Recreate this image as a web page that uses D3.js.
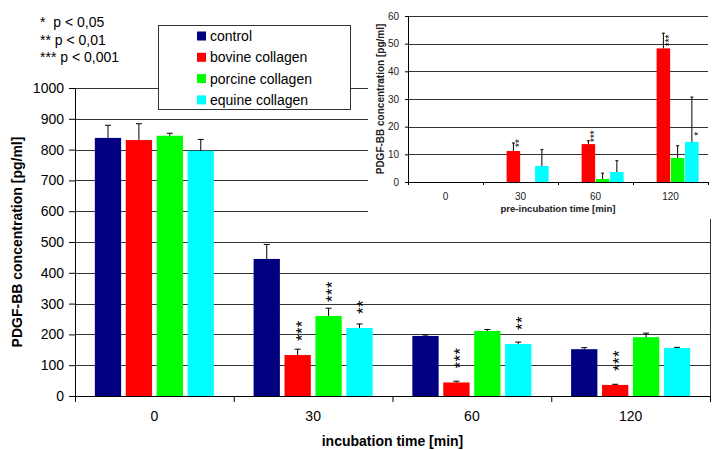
<!DOCTYPE html>
<html>
<head>
<meta charset="utf-8">
<script src="https://cdn.jsdelivr.net/npm/d3@7"></script>
<style>
body { margin: 0; background: #fff; }
text { font-family: Arial, "Liberation Sans", sans-serif; }
.grid line { stroke: #333; shape-rendering: crispEdges; }
.grid path { stroke-width: 0; }
</style>
</head>
<body>
<svg id="chart" width="717" height="450"></svg>
<script>

var times = ["0", "30", "60", "120"];
var series = ["control", "bovine collagen", "porcine collagen", "equine collagen"];
var colors = ["#000080", "#ff0000", "#00ff00", "#00ffff"];

// main chart: mean and upper error per series (rows) and time (cols)
var mainMean = [
  [838, 445, 195, 152],
  [831, 133, 44, 36],
  [845, 260, 211, 191],
  [796, 221, 169, 156]
];
var mainErr = [
  [41, 47, 3, 5],
  [53, 19, 4, 2],
  [8, 25, 5, 13],
  [37, 13, 6, 2]
];
var mainStars = [
  [0, 0, 0, 0],
  [0, 3, 3, 3],
  [0, 3, 0, 0],
  [0, 2, 2, 0]
];

// inset: pre-incubation
var insetMean = [
  [0, 0, 0, 0],
  [0, 11.2, 13.7, 48.3],
  [0, 0, 1.1, 8.7],
  [0, 5.8, 3.6, 14.5]
];
var insetErr = [
  [0, 0, 0, 0],
  [0, 2.9, 1.2, 5.5],
  [0, 0, 2.1, 4.4],
  [0, 5.9, 4.1, 16.2]
];
var insetStars = [
  [0, 0, 0, 0],
  [0, 2, 3, 3],
  [0, 0, 0, 0],
  [0, 0, 0, 1]
];

var mainTicks = d3.range(0, 1001, 100);
var insetTicks = d3.range(0, 61, 10);
var pLabels = ["*  p < 0,05", "** p < 0,01", "*** p < 0,001"];

var svg = d3.select("#chart");

function rows(mean, err, stars) {
  var out = [];
  times.forEach(function(t, ti) {
    series.forEach(function(s, si) {
      out.push({time: t, series: s, color: colors[si], v: mean[si][ti], e: err[si][ti], stars: stars[si][ti]});
    });
  });
  return out;
}

function panel(o) {
  var g = svg.append("g");
  var y = d3.scaleLinear().domain([0, o.ymax]).range([o.bottom, o.top]);
  var x0 = d3.scaleBand().domain(times).range([o.left, o.right])
    .paddingInner(0.25).paddingOuter(0.125);
  var x1 = d3.scaleBand().domain(series).range([0, x0.bandwidth()])
    .paddingInner(o.barPad);
  var xb = d3.scaleLinear().domain([0, times.length]).range([o.left, o.right]);

  // gridlines
  g.append("g").attr("class", "grid")
    .attr("transform", `translate(${o.left},0)`)
    .call(d3.axisLeft(y).tickValues(o.ticks.slice(1)).tickSize(-(o.right - o.left)).tickFormat(""));

  if (o.border) {
    g.append("line").attr("x1", o.right).attr("x2", o.right)
      .attr("y1", o.top).attr("y2", o.bottom)
      .attr("stroke", "#333").attr("shape-rendering", "crispEdges");
  }

  var data = rows(o.mean, o.err, o.stars);
  var bx = function(d) { return x0(d.time) + x1(d.series); };
  var bw = x1.bandwidth();

  g.selectAll(".bar").data(data).enter().append("rect")
    .attr("x", bx)
    .attr("y", d => y(d.v))
    .attr("width", bw)
    .attr("height", d => o.bottom - y(d.v))
    .attr("fill", d => d.color);

  var withErr = data.filter(d => d.e > 0);
  g.selectAll("line.err").data(withErr).enter().append("line")
    .attr("stroke", "#000")
    .attr("x1", d => bx(d) + bw / 2).attr("x2", d => bx(d) + bw / 2)
    .attr("y1", d => y(d.v)).attr("y2", d => y(d.v + d.e));
  g.selectAll("line.cap").data(withErr).enter().append("line")
    .attr("stroke", "#000")
    .attr("x1", d => bx(d) + bw / 2 - o.cap).attr("x2", d => bx(d) + bw / 2 + o.cap)
    .attr("y1", d => y(d.v + d.e)).attr("y2", d => y(d.v + d.e));

  // significance stars: one rotated label per bar, reading upward
  g.selectAll("text.star").data(data.filter(d => d.stars > 0)).enter().append("text")
    .attr("class", "star")
    .attr("transform", function(d) {
      var cx = bx(d) + bw / 2 + o.starDx + o.starFont * 0.58;
      return `translate(${cx},${o.starBase(d, y)}) rotate(-90)`;
    })
    .attr("font-size", o.starFont)
    .attr("letter-spacing", o.starGap)
    .attr("fill", "#000")
    .text(d => "*".repeat(d.stars));

  // y axis
  var ya = g.append("g").attr("transform", `translate(${o.left},0)`)
    .call(d3.axisLeft(y).tickValues(o.ticks).tickFormat(d3.format("d"))
      .tickSize(o.tick).tickPadding(o.tickPad).tickSizeOuter(0));
  ya.selectAll("text").attr("font-size", o.font).attr("fill", o.textColor).attr("font-family", null);
  ya.selectAll("line,path").attr("stroke", "#000");

  // x axis: ticks at category boundaries, labels at centres
  var xa = g.append("g").attr("transform", `translate(0,${o.bottom})`)
    .call(d3.axisBottom(xb).ticks(times.length).tickSize(o.tick).tickFormat("").tickSizeOuter(0));
  xa.selectAll("line,path").attr("stroke", "#000");
  var xl = g.append("g").attr("transform", `translate(0,${o.bottom})`)
    .call(d3.axisBottom(x0).tickSize(0).tickPadding(o.xPad));
  xl.select(".domain").remove();
  xl.selectAll("text").attr("font-size", o.font).attr("fill", o.textColor).attr("font-family", null);

  g.append("text")
    .attr("transform", `translate(${o.yTitleX},${(o.top + o.bottom) / 2}) rotate(-90)`)
    .attr("text-anchor", "middle").attr("dy", "0.35em")
    .attr("font-weight", "bold").attr("font-size", o.yTitleFont).attr("fill", o.textColor)
    .text("PDGF-BB concentration [pg/ml]");
  g.append("text")
    .attr("x", (o.left + o.right) / 2).attr("y", o.xTitleY)
    .attr("text-anchor", "middle")
    .attr("font-weight", "bold").attr("font-size", o.xTitleFont).attr("fill", o.textColor)
    .text(o.xTitle);
}

panel({
  left: 75, right: 710, top: 88, bottom: 396,
  ymax: 1000, ticks: mainTicks,
  mean: mainMean, err: mainErr, stars: mainStars,
  barPad: 0.15, cap: 3, border: true,
  font: 14, tick: 6, tickPad: 5, xPad: 15, textColor: "#000",
  starFont: 17, starGap: 0.3, starDx: 0,
  starBase: function(d, y) { return y(d.v) - 14; },
  yTitleX: 17, yTitleFont: 14,
  xTitle: "incubation time [min]", xTitleY: 446, xTitleFont: 14
});

// inset background hides the main chart behind it
svg.append("rect").attr("x", 368).attr("y", 0).attr("width", 349).attr("height", 219).attr("fill", "#fff");

panel({
  left: 408, right: 708, top: 16, bottom: 182,
  ymax: 60, ticks: insetTicks,
  mean: insetMean, err: insetErr, stars: insetStars,
  barPad: 0.05, cap: 1.5, border: false,
  font: 10, tick: 3, tickPad: 6, xPad: 11, textColor: "#222",
  starFont: 10, starGap: 0, starDx: 4,
  starBase: function(d, y) { return y(d.v) - 8 + d.stars * 1.95; },
  yTitleX: 380, yTitleFont: 10,
  xTitle: "pre-incubation time [min]", xTitleY: 212, xTitleFont: 9.6
});

// legend
var lg = svg.append("g");
lg.append("rect").attr("x", 158).attr("y", 25).attr("width", 192).attr("height", 84)
  .attr("fill", "#fff").attr("stroke", "#333").attr("shape-rendering", "crispEdges");
series.forEach(function(s, i) {
  var cy = 36 + i * 21.3;
  lg.append("rect").attr("x", 197).attr("y", cy - 4.5).attr("width", 9).attr("height", 9).attr("fill", colors[i]);
  lg.append("text").attr("x", 210).attr("y", cy + 5).attr("font-size", 14).text(s);
});

// significance key
pLabels.forEach(function(t, i) {
  svg.append("text").attr("x", 40).attr("y", 27 + i * 17.5).attr("font-size", 14)
    .attr("xml:space", "preserve").style("white-space", "pre").text(t);
});

</script>
</body>
</html>
